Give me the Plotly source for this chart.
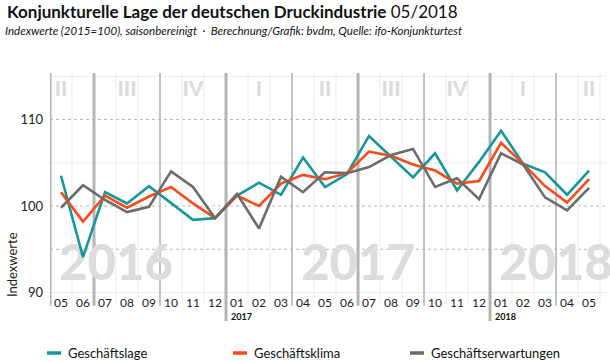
import plotly.graph_objects as go

months = ["05","06","07","08","09","10","11","12","01","02","03","04",
          "05","06","07","08","09","10","11","12","01","02","03","04","05"]
year_marks = {8: "2017", 20: "2018"}
big_years = ["2016", "2017", "2018"]
big_year_pos = [2.5, 13.5, 22.5]
quarter_names = {"02": "I", "05": "II", "08": "III", "11": "IV"}

series_names = ["Geschäftslage", "Geschäftsklima", "Geschäftserwartungen"]
lage = [103.5, 94.1, 101.6, 100.3, 102.3, 100.4, 98.4, 98.6, 101.2, 102.7, 101.3, 105.6,
        102.2, 103.7, 108.1, 105.7, 103.3, 106.1, 101.8, 105.1, 108.7, 104.9, 103.9, 101.3, 104.1]
klima = [101.6, 98.2, 101.2, 99.8, 101.1, 102.2, 100.3, 98.6, 101.2, 100.0, 102.6, 103.6,
         103.1, 103.8, 106.3, 105.8, 104.8, 104.1, 102.6, 102.9, 107.3, 104.9, 102.3, 100.4, 103.1]
erwart = [99.8, 102.4, 100.7, 99.3, 99.9, 104.0, 102.2, 98.6, 101.4, 97.4, 103.4, 101.6,
          103.9, 103.8, 104.5, 105.9, 106.6, 102.2, 103.2, 100.8, 106.1, 104.8, 101.0, 99.5, 102.1]
colors = ["#16979a", "#fb4a17", "#6b6b6b"]

W, H = 610, 362
L, R, T, B = 50, 4, 73, 54
PW, PH = W - L - R, H - T - B
FONT = "Lato"

def px2x(px):
    return (px - L) / PW

def py2y(py):
    return (H - B - py) / PH

x = list(range(len(months)))
fig = go.Figure()

# watermark years + quarter labels (below the lines)
fig.add_trace(go.Scatter(x=big_year_pos, y=[92.9] * 3, mode="text", text=big_years,
                         textfont=dict(family=FONT, size=49, color="#dcdcdc", weight=900),
                         hoverinfo="skip", showlegend=False, cliponaxis=False))
qx = [i for i, m in enumerate(months) if m in quarter_names]
qt = [quarter_names[months[i]] for i in qx]
fig.add_trace(go.Scatter(x=qx, y=[113.3] * len(qx), mode="text", text=qt,
                         textfont=dict(family=FONT, size=21, color="#dcdcdc", weight=900),
                         hoverinfo="skip", showlegend=False, cliponaxis=False))

for name, vals, c in zip(series_names, [lage, klima, erwart], colors):
    fig.add_trace(go.Scatter(x=x, y=vals, mode="lines", name=name,
                             line=dict(color=c, width=2.6), showlegend=False))

shapes = []
# horizontal grid
for v, dotted in [(90, False), (95, True), (100, True), (105, False), (110, True), (115, False)]:
    shapes.append(dict(type="line", xref="paper", yref="y", x0=0, x1=1, y0=v, y1=v,
                       line=dict(color="#b9b9b9" if dotted else "#ececec", width=1,
                                 dash="dot" if dotted else "solid"), layer="below"))
# vertical grid
n = len(months)
for i in range(n):
    b = i + 0.5
    if i == n - 1:
        shapes.append(dict(type="line", xref="x", yref="paper", x0=b, x1=b, y0=0.01, y1=1,
                           line=dict(color="#ececec", width=1), layer="below"))
        continue
    nxt = months[i + 1]
    if nxt == "01":
        shapes.append(dict(type="line", xref="x", yref="paper", x0=b, x1=b, y0=-0.055, y1=1,
                           line=dict(color="#b4b4b4", width=3), layer="below"))
    elif nxt == "07":
        shapes.append(dict(type="line", xref="x", yref="paper", x0=b, x1=b, y0=0.01, y1=1,
                           line=dict(color="#b4b4b4", width=3), layer="below"))
    elif nxt in ("04", "10"):
        shapes.append(dict(type="line", xref="x", yref="paper", x0=b, x1=b, y0=0.01, y1=1,
                           line=dict(color="#b4b4b4", width=1.6), layer="below"))
    else:
        shapes.append(dict(type="line", xref="x", yref="paper", x0=b, x1=b, y0=0.01, y1=1,
                           line=dict(color="#ececec", width=1), layer="below"))
shapes.append(dict(type="line", xref="x", yref="paper", x0=-0.5, x1=-0.5, y0=0.01, y1=1,
                   line=dict(color="#b4b4b4", width=3), layer="below"))

annotations = []
for i, m in enumerate(months):
    annotations.append(dict(x=i, y=py2y(302), xref="x", yref="paper", text=m, showarrow=False,
                            xanchor="center", yanchor="middle",
                            font=dict(family=FONT, size=12, color="#222222")))
for i, yr in year_marks.items():
    annotations.append(dict(x=i - 0.5, y=py2y(316), xref="x", yref="paper", text="<b>" + yr + "</b>",
                            showarrow=False, xanchor="left", yanchor="middle", xshift=3,
                            font=dict(family=FONT, size=9, color="#111111")))
annotations.append(dict(x=px2x(12), y=py2y(265), xref="paper", yref="paper", text="Indexwerte",
                        textangle=-90, showarrow=False, xanchor="center", yanchor="middle",
                        font=dict(family=FONT, size=13, color="#222222")))
annotations.append(dict(x=px2x(3), y=py2y(30), xref="paper", yref="paper", xanchor="left",
                        yanchor="middle",
                        text="<i>Indexwerte (2015=100), saisonbereinigt  ·  Berechnung/Grafik: bvdm, Quelle: ifo-Konjunkturtest</i>",
                        showarrow=False, font=dict(family=FONT, size=11.5, color="#111111")))

# legend (manual)
leg_x = [47, 233, 410]
for name, c, lx in zip(series_names, colors, leg_x):
    shapes.append(dict(type="line", xref="paper", yref="paper", x0=px2x(lx), x1=px2x(lx + 14),
                       y0=py2y(353), y1=py2y(353), line=dict(color=c, width=3.5)))
    annotations.append(dict(x=px2x(lx + 19), y=py2y(353), xref="paper", yref="paper",
                            xanchor="left", yanchor="middle", text=name, showarrow=False,
                            font=dict(family=FONT, size=13, color="#111111")))

# title
annotations.append(dict(x=px2x(5), y=py2y(12), xref="paper", yref="paper", xanchor="left",
                        yanchor="middle", showarrow=False,
                        text="<b>Konjunkturelle Lage der deutschen Druckindustrie</b> 05/2018",
                        font=dict(family=FONT, size=17, color="#111111")))

fig.update_layout(
    width=W, height=H,
    margin=dict(l=L, r=R, t=T, b=B, pad=0, autoexpand=False),
    paper_bgcolor="white", plot_bgcolor="white",
    xaxis=dict(range=[-0.5, 24.77], showgrid=False, zeroline=False, showticklabels=False,
               showline=False, ticks="", automargin=False),
    yaxis=dict(range=[88.21, 115.38], showgrid=False, zeroline=False, showline=False,
               tickvals=[90, 100, 110], ticktext=["90", "100", "110"], ticks="",
               automargin=False,
               ticklabelstandoff=6, tickfont=dict(family=FONT, size=13, color="#222222")),
    shapes=shapes, annotations=annotations, showlegend=False,
)

fig.write_html("out.html", config={"displayModeBar": False},
               post_script="document.body.style.margin='0';document.body.style.overflow='hidden';")
